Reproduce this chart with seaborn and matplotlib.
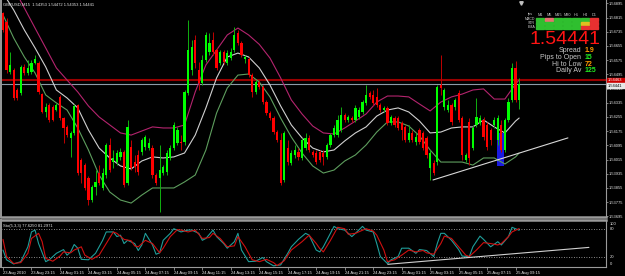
import numpy as np
import pandas as pd
import matplotlib
matplotlib.use("Agg")
import matplotlib.pyplot as plt
import seaborn as sns
from matplotlib.patches import Rectangle

sns.set_theme(style="dark", rc={"axes.facecolor": "black", "figure.facecolor": "black"})
plt.rcParams['font.family'] = ['Liberation Sans', 'DejaVu Sans']

# ---------------- data (GBPUSD M15) ----------------
opens = [1.54841,1.54790,1.54508,1.54520,1.54407,1.54390,1.54537,1.54503,1.54508,1.54559,
         1.54559,1.54384,1.54283,1.54322,1.54311,1.54294,1.54368,1.54249,1.54199,1.54137,
         1.54165,1.54322,1.54013,1.53984,1.53911,1.53787,1.53860,1.53939,1.53855,1.53928,
         1.54097,1.54001,1.54001,1.54030,1.54058,1.53883,1.54086,1.54001,1.54041,1.54058,
         1.54086,1.54080,1.54080,1.53928,1.53911,1.53939,1.53945,1.54024,1.54080,1.54108,
         1.54114,1.54114,1.54390,1.54520,1.54689,1.54520,1.54446,1.54576,1.54621,1.54689,
         1.54632,1.54559,1.54621,1.54559,1.54587,1.54632,1.54728,1.54672,1.54582,1.54582,
         1.54491,1.54396,1.54452,1.54424,1.54339,1.54277,1.54249,1.54170,1.54125,1.53900,
         1.54080,1.53996,1.54041,1.54058,1.54024,1.54080,1.54137,1.54058,1.54052,1.54058,
         1.54052,1.54030,1.54097,1.54153,1.54153,1.54182,1.54266,1.54238,1.54249,1.54238,
         1.54255,1.54283,1.54334,1.54390,1.54379,1.54368,1.54322,1.54294,1.54306,1.54221,
         1.54249,1.54249,1.54221,1.54199,1.54125,1.54165,1.54114,1.54182,1.54165,1.54137,
         1.53968,1.53996,1.54001,1.54435,1.54311,1.54294,1.54322,1.54311,1.54390,1.54249,
         1.54013,1.54227,1.54080,1.54210,1.54221,1.54238,1.54210,1.54182,1.54210,1.54125,
         1.54210,1.54069,1.54238,1.54351,1.54531,1.54353]
highs = [1.54846,1.54813,1.54621,1.54531,1.54418,1.54548,1.54554,1.54576,1.54576,1.54604,
         1.54570,1.54390,1.54334,1.54334,1.54322,1.54334,1.54379,1.54255,1.54210,1.54176,
         1.54328,1.54328,1.54024,1.53996,1.53922,1.53872,1.53956,1.53984,1.53968,1.54108,
         1.54137,1.54069,1.54069,1.54080,1.54069,1.54238,1.54125,1.54041,1.54069,1.54137,
         1.54153,1.54137,1.54097,1.53939,1.54097,1.53984,1.54069,1.54097,1.54227,1.54199,
         1.54153,1.54407,1.54801,1.54689,1.54717,1.54565,1.54604,1.54734,1.54728,1.54734,
         1.54644,1.54632,1.54632,1.54632,1.54644,1.54762,1.54745,1.54683,1.54604,1.54593,
         1.54503,1.54463,1.54463,1.54435,1.54351,1.54289,1.54260,1.54182,1.54165,1.54176,
         1.54125,1.54069,1.54097,1.54080,1.54137,1.54165,1.54153,1.54069,1.54069,1.54069,
         1.54069,1.54108,1.54165,1.54210,1.54266,1.54311,1.54277,1.54266,1.54260,1.54322,
         1.54311,1.54351,1.54435,1.54401,1.54407,1.54418,1.54334,1.54317,1.54317,1.54266,
         1.54260,1.54260,1.54232,1.54210,1.54210,1.54182,1.54165,1.54193,1.54176,1.54148,
         1.54069,1.54013,1.54435,1.54604,1.54418,1.54351,1.54334,1.54362,1.54407,1.54260,
         1.54052,1.54249,1.54210,1.54362,1.54266,1.54255,1.54227,1.54193,1.54255,1.54266,
         1.54238,1.54249,1.54362,1.54559,1.54570,1.54475]
lows = [1.54734,1.54503,1.54497,1.54351,1.54351,1.54379,1.54491,1.54491,1.54497,1.54554,
        1.54384,1.54277,1.54255,1.54227,1.54232,1.54289,1.54238,1.54108,1.54142,1.54030,
        1.54153,1.53928,1.53883,1.53844,1.53759,1.53776,1.53815,1.53872,1.53844,1.53911,
        1.53945,1.53968,1.53984,1.54013,1.53860,1.53872,1.53956,1.53945,1.53928,1.54041,
        1.54069,1.54069,1.53911,1.53872,1.53720,1.53928,1.53928,1.54013,1.54069,1.54097,
        1.54069,1.54097,1.54379,1.54491,1.54531,1.54407,1.54435,1.54565,1.54604,1.54604,
        1.54520,1.54548,1.54554,1.54548,1.54576,1.54621,1.54661,1.54593,1.54559,1.54480,
        1.54368,1.54384,1.54413,1.54328,1.54266,1.54238,1.54159,1.54114,1.53872,1.53889,
        1.53984,1.53984,1.54024,1.54013,1.54013,1.54069,1.54058,1.54030,1.53990,1.54001,
        1.53984,1.54018,1.54086,1.54142,1.54142,1.54170,1.54227,1.54227,1.54227,1.54227,
        1.54244,1.54272,1.54322,1.54356,1.54322,1.54311,1.54283,1.54283,1.54210,1.54210,
        1.54199,1.54182,1.54125,1.54114,1.54114,1.54114,1.54097,1.54103,1.54069,1.54024,
        1.53900,1.53928,1.53984,1.54379,1.54294,1.54283,1.54210,1.54294,1.54227,1.54013,
        1.54001,1.53984,1.54069,1.54199,1.54210,1.54125,1.54069,1.54097,1.54193,1.54097,
        1.54058,1.54058,1.54227,1.54339,1.54339,1.54300]
closes = [1.54745,1.54520,1.54548,1.54362,1.54362,1.54537,1.54503,1.54531,1.54559,1.54582,
          1.54396,1.54283,1.54311,1.54238,1.54238,1.54322,1.54249,1.54193,1.54153,1.54165,
          1.54317,1.53939,1.53939,1.53855,1.53787,1.53860,1.53889,1.53883,1.53939,1.54097,
          1.53956,1.54024,1.54052,1.54058,1.53872,1.54199,1.53968,1.53973,1.53945,1.54125,
          1.54142,1.54108,1.53928,1.53883,1.53956,1.53973,1.54052,1.54080,1.54210,1.54182,
          1.54108,1.54396,1.54632,1.54649,1.54559,1.54446,1.54576,1.54717,1.54672,1.54621,
          1.54531,1.54621,1.54565,1.54615,1.54621,1.54717,1.54672,1.54604,1.54593,1.54491,
          1.54396,1.54452,1.54424,1.54339,1.54277,1.54249,1.54170,1.54125,1.53883,1.54165,
          1.54001,1.54052,1.54069,1.54030,1.54125,1.54137,1.54069,1.54041,1.54001,1.54013,
          1.54030,1.54097,1.54153,1.54193,1.54238,1.54266,1.54238,1.54255,1.54238,1.54306,
          1.54294,1.54339,1.54379,1.54368,1.54334,1.54322,1.54294,1.54306,1.54221,1.54255,
          1.54210,1.54193,1.54182,1.54125,1.54165,1.54125,1.54142,1.54114,1.54080,1.54041,
          1.54052,1.53939,1.54424,1.54418,1.54407,1.54322,1.54227,1.54351,1.54238,1.54041,
          1.54041,1.54024,1.54193,1.54255,1.54249,1.54142,1.54086,1.54125,1.54238,1.54249,
          1.54069,1.54238,1.54339,1.54531,1.54351,1.54441]

band_bars = list(range(0, 146, 3)) + [145]
band_upper = [1.55055,1.54982,1.54869,1.54756,1.54644,1.54531,1.54463,1.54396,1.54317,1.54255,
              1.54210,1.54165,1.54153,1.54176,1.54199,1.54193,1.54193,1.54210,1.54396,1.54548,
              1.54632,1.54717,1.54756,1.54717,1.54664,1.54587,1.54475,1.54351,1.54272,1.54204,
              1.54165,1.54159,1.54193,1.54232,1.54272,1.54339,1.54373,1.54373,1.54368,1.54328,
              1.54289,1.54339,1.54368,1.54384,1.54407,1.54413,1.54356,1.54356,1.54441,1.54463]
band_mid = [1.54953,1.54858,1.54745,1.54644,1.54537,1.54407,1.54362,1.54306,1.54182,1.54080,
            1.54024,1.53979,1.53962,1.54007,1.54030,1.54024,1.54030,1.54052,1.54153,1.54306,
            1.54475,1.54593,1.54615,1.54593,1.54531,1.54435,1.54317,1.54210,1.54137,1.54080,
            1.54058,1.54069,1.54120,1.54165,1.54199,1.54260,1.54294,1.54306,1.54283,1.54232,
            1.54165,1.54170,1.54193,1.54199,1.54199,1.54238,1.54199,1.54165,1.54232,1.54249]
band_lower = [1.54830,1.54700,1.54593,1.54503,1.54379,1.54334,1.54294,1.54193,1.54069,1.53928,
              1.53832,1.53787,1.53770,1.53815,1.53855,1.53855,1.53855,1.53889,1.53928,1.54069,
              1.54277,1.54418,1.54491,1.54497,1.54452,1.54368,1.54249,1.54142,1.54052,1.53979,
              1.53939,1.53956,1.54007,1.54041,1.54097,1.54170,1.54227,1.54227,1.54204,1.54148,
              1.54069,1.54001,1.54001,1.54001,1.53984,1.54024,1.54024,1.53990,1.54030,1.54052]

stoch_k_bars = [0,1,3,5,7,8,9,10,12,13,15,17,18,19,20,21,22,24,26,28,29,31,32,33,34,35,37,38,39,40,
                42,43,44,45,47,48,50,52,53,55,56,57,59,60,62,63,65,66,67,69,71,73,74,76,78,80,81,83,85,86,
                88,89,90,93,94,96,98,99,101,102,104,105,106,108,109,111,112,114,116,117,119,121,122,123,124,126,128,129,131,132,
                134,135,137,139,140,142,143,145]
stoch_k = [35,14,5,10,42,74,78,49,10,14,28,36,24,31,47,39,15,14,28,56,74,74,64,67,49,56,49,34,46,71,
           46,26,29,56,71,81,74,78,78,71,56,60,78,64,49,39,53,71,35,10,11,19,10,1,3,28,42,58,71,67,
           35,31,42,86,81,78,64,71,86,78,74,49,21,6,14,21,39,39,28,36,34,21,49,71,71,56,36,22,21,42,
           65,58,42,53,46,64,84,77.625]
stoch_d_bars = [0,1,3,5,7,8,10,11,12,14,16,17,19,20,22,23,25,27,29,31,32,34,36,37,38,40,42,44,45,47,
                49,50,52,54,56,58,59,61,63,65,66,68,70,72,74,76,77,79,81,84,86,88,89,90,92,94,96,97,99,102,
                104,105,107,108,110,112,114,116,118,119,121,123,124,126,128,130,131,133,135,137,139,140,142,143,145]
stoch_d = [58,21,6,8,28,60,71,53,17,11,22,31,29,35,42,24,15,24,49,74,71,58,55,44,42,56,49,29,39,64,
           79,78,74,78,60,62,71,60,42,44,64,42,14,10,15,8,1.5,12,35,53,67,49,38,31,56,84,81,69,71,81,
           76,67,35,10,14,24,35,31,34,29,26,49,65,60,42,24,21,35,51,49,46,49,64,74,81.2971]
stoch_levels = [80, 20]

trend_bars = [120.8, 158.7]
trend_prices = [1.53900, 1.54137]
stoch_trend_bars = [108.1, 164.6]
stoch_trend_vals = [4.3, 40.7]
box_bars = [138.7, 140.7]
box_prices = [1.53979, 1.54165]
red_line_price = 1.54463
bid_price = 1.54441

price_ticks = [1.54895, 1.54815, 1.54735, 1.54655, 1.54575, 1.54495, 1.54415, 1.54335,
               1.54255, 1.54175, 1.54095, 1.54015, 1.53935, 1.53855, 1.53775, 1.53695]
time_tick_bars = list(range(0, 145, 8))
time_labels = ["23 Aug 2010", "23 Aug 23:15", "24 Aug 01:15", "24 Aug 03:15", "24 Aug 05:15",
               "24 Aug 07:15", "24 Aug 09:15", "24 Aug 11:15", "24 Aug 13:15", "24 Aug 15:15",
               "24 Aug 17:15", "24 Aug 19:15", "24 Aug 21:15", "24 Aug 23:15", "25 Aug 01:15",
               "25 Aug 03:15", "25 Aug 05:15", "25 Aug 07:15", "25 Aug 09:15"]

tf_cols = ["M1", "M5", "M15", "M30", "H1", "H4", "D1"]
tf_rows = ["MACD", "STR", "EMA"]
tf_state = [["up", "weak", "up", "up", "up", "up", "down"],
            ["up", "up", "up", "up", "up", "mixed", "down"],
            ["up", "up", "up", "up", "up", "down", "down"]]
stat_labels = ["Spread", "Pips to Open", "Hi to Low", "Daily Av"]
stat_values = ["1.9", "15", "72", "125"]
stat_colors = ["#FF9900", "#22EE22", "#FF9900", "#22EE22"]

# ---------------- figure ----------------
W, H = 625, 276
fig = plt.figure(figsize=(W / 100, H / 100), dpi=100, facecolor="black")
fx = lambda p: p / W
fy = lambda p: 1 - p / H

ax = fig.add_axes([fx(1), fy(217), (606 - 1) / W, 217 / H])
ax2 = fig.add_axes([fx(1), fy(267), (606 - 1) / W, (267 - 219.5) / H])
for a in (ax, ax2):
    a.set_facecolor("black")
    a.grid(False)
    for s in a.spines.values():
        s.set_color("#9a9a9a")
        s.set_linewidth(0.8)
    a.spines["top"].set_visible(False)
ax.spines["bottom"].set_linewidth(1.8)
ax2.spines["top"].set_visible(True)
ax2.spines["top"].set_linewidth(1.8)
ax.spines["left"].set_linewidth(1.4)
ax2.spines["left"].set_linewidth(1.4)

x = np.arange(len(closes))
o = np.array(opens); h = np.array(highs); l = np.array(lows); c = np.array(closes)
up = c >= o

# horizontal lines
ax.axhline(red_line_price, color="#9a0000", lw=1.5, zorder=1)
ax.axhline(bid_price, color="#8d9aa8", lw=0.8, zorder=1)

# blue rectangle
ax.add_patch(Rectangle((box_bars[0], box_prices[0]), box_bars[1] - box_bars[0],
                       box_prices[1] - box_prices[0], color="#1a1ae0", zorder=2, lw=0))

# bands
df_b = pd.DataFrame({"bar": band_bars, "upper": band_upper, "mid": band_mid, "lower": band_lower})
sns.lineplot(data=df_b, x="bar", y="upper", ax=ax, color="#b4246e", lw=0.8, zorder=3)
sns.lineplot(data=df_b, x="bar", y="mid", ax=ax, color="#d0d0d0", lw=0.8, zorder=3)
sns.lineplot(data=df_b, x="bar", y="lower", ax=ax, color="#5e9e5e", lw=0.8, zorder=3)

# candles
ax.vlines(x[up], l[up], h[up], color="#10b010", lw=0.7, zorder=4)
ax.vlines(x[~up], l[~up], h[~up], color="#c00000", lw=0.7, zorder=4)
body = np.maximum(np.abs(c - o), 0.000012)
ax.bar(x[up], body[up], bottom=np.minimum(o, c)[up], width=0.62, color="#00ff00", lw=0, zorder=5)
ax.bar(x[~up], body[~up], bottom=np.minimum(o, c)[~up], width=0.62, color="#ff0000", lw=0, zorder=5)

# trendline
sns.lineplot(x=trend_bars, y=trend_prices, ax=ax, color="#d8d8d8", lw=0.8, zorder=6)

ax.set_xlim(-0.56, 169.4)
ax.set_ylim(1.536914, 1.54914)
ax.set_xlabel(""); ax.set_ylabel("")
ax.set_xticks([])
ax.yaxis.tick_right()
ax.set_yticks(price_ticks)
ax.set_yticklabels([f"{v:.5f}" for v in price_ticks])
ax.tick_params(axis="y", right=True, left=False, length=1.5, width=0.5, color="#b0b0b0",
               labelsize=2.9, labelcolor="#e6e6e6", pad=0.6)

# shift marker
ax.plot([len(closes) - 0.5], [0.985], marker="v", ms=2.5, color="#c0c0c0",
        transform=ax.get_xaxis_transform(), clip_on=False, zorder=7)

# stochastic
df_k = pd.DataFrame({"bar": stoch_k_bars, "k": stoch_k})
df_d = pd.DataFrame({"bar": stoch_d_bars, "d": stoch_d})
for lv in stoch_levels:
    ax2.axhline(lv, color="#b8b8b8", lw=0.6, ls=(0, (1, 2)), zorder=1)
sns.lineplot(data=df_k, x="bar", y="k", ax=ax2, color="#1f9e9a", lw=0.8, zorder=3)
sns.lineplot(data=df_d, x="bar", y="d", ax=ax2, color="#d01010", lw=0.8, zorder=4)
sns.lineplot(x=stoch_trend_bars, y=stoch_trend_vals, ax=ax2, color="#d0d0d0", lw=0.8, zorder=5)
ax2.set_xlim(-0.56, 169.4)
ax2.set_ylim(-1.5, 100.8)
ax2.set_xlabel(""); ax2.set_ylabel("")
ax2.set_yticks([])
ax2.set_xticks(time_tick_bars)
ax2.set_xticklabels(time_labels, ha="left")
ax2.tick_params(axis="x", bottom=True, length=2, width=0.5, color="#b0b0b0",
                labelsize=3.0, labelcolor="#e6e6e6", pad=1)
for val, ypos in [("100", 91), ("80", 80), ("20", 20), ("0", 4)]:
    ax2.text(1.006, ypos, val, transform=ax2.get_yaxis_transform(), fontsize=3.0,
             color="#e6e6e6", va="center")
ax2.text(0.004, 0.86, f"Sto(5,3,3) {stoch_k[-1]:.4f} {stoch_d[-1]:.4f}", transform=ax2.transAxes,
         fontsize=3.0, color="#e6e6e6", va="center")

# titles
fig.text(fx(3), fy(5), "GBPUSD,M15  1.54353 1.54472 1.54353 1.54441", fontsize=3.0,
         color="#e6e6e6", va="center")

# price boxes on right axis
fig.patches.append(Rectangle((fx(607), fy(82.5)), fx(18), 5 / H, transform=fig.transFigure,
                             color="#cc0000", zorder=10))
fig.text(fx(608), fy(80.2), f"{red_line_price:.5f}", fontsize=2.9, color="white", va="center", zorder=11)
fig.patches.append(Rectangle((fx(607), fy(88)), fx(18), 5 / H, transform=fig.transFigure,
                             color="#e8e8e8", zorder=10))
fig.text(fx(608), fy(85.6), f"{bid_price:.5f}", fontsize=2.9, color="black", va="center", zorder=11)

# signal table
state_col = {"up": "#2fbf2f", "weak": "#e87070", "mixed": "#e0c020", "down": "#e83030"}
for j, name in enumerate(tf_cols):
    fig.text(fx(540 + 9 * j), fy(14.5), name, fontsize=2.8, color="#c8c8c8", ha="center", va="center")
fig.text(fx(531), fy(14.5), "tps", fontsize=2.8, color="#c8c8c8", ha="center", va="center")
for r, rname in enumerate(tf_rows):
    fig.text(fx(535), fy(19.3 + 4 * r), rname, fontsize=2.6, color="#c8c8c8", ha="right", va="center")
    for j in range(len(tf_cols)):
        fig.patches.append(Rectangle((fx(536 + 9 * j), fy(21 + 4 * r)), 8.0 / W, 3.1 / H,
                                     transform=fig.transFigure, color=state_col[tf_state[r][j]], zorder=10))

fig.text(fx(565), fy(39.5), f"{closes[-1]:.5f}", fontsize=14, color="#ff1414", ha="center", va="center")
for i, (lab, val, col) in enumerate(zip(stat_labels, stat_values, stat_colors)):
    yy = 51 + 6.5 * i
    fig.text(fx(581.5), fy(yy), lab, fontsize=5, color="#c8c8c8", ha="right", va="center")
    fig.text(fx(585), fy(yy), val, fontsize=5, color=col, ha="left", va="center", fontweight="bold")

fig.savefig("out.png", dpi=100, facecolor="black")
